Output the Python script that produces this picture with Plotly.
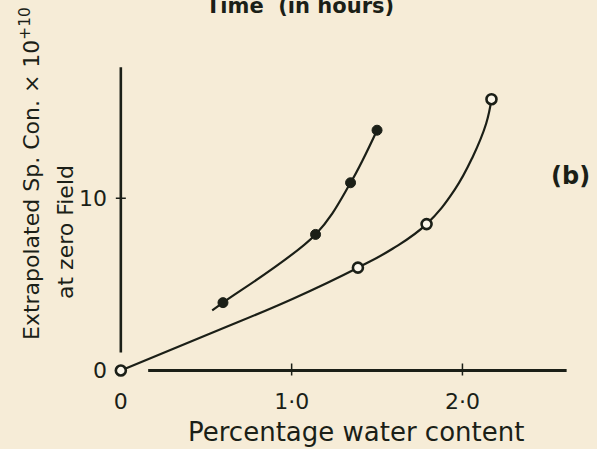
import plotly.graph_objects as go

# ---- data ----
filled_x = [0.598, 1.14, 1.345, 1.50]
filled_y = [3.94, 7.9, 10.9, 13.95]
filled_curve_x = [0.535, 0.598, 1.14, 1.345, 1.50]
filled_curve_y = [3.49, 3.94, 7.9, 10.9, 13.95]

open_x = [0.0, 1.388, 1.79, 2.17]
open_y = [0.0, 5.97, 8.5, 15.75]
open_curve_x = [0.0, 0.52, 1.008, 1.388, 1.593, 1.79, 1.953, 2.06, 2.139, 2.17]
open_curve_y = [0.0, 2.13, 4.17, 5.97, 7.08, 8.5, 10.47, 12.4, 14.34, 15.75]

x_tickvals = [0, 1, 2]
x_ticktext = ["0", "1·0", "2·0"]
y_tickvals = [0, 10]
y_ticktext = ["0", "10"]

INK = "#1b1f17"
BG = "#f6ecd7"
FONT = "DejaVu Sans"

fig = go.Figure()
fig.add_trace(go.Scatter(x=filled_curve_x, y=filled_curve_y, mode="lines",
                         line=dict(color=INK, width=2.2, shape="spline", smoothing=1.0),
                         hoverinfo="skip", cliponaxis=False))
fig.add_trace(go.Scatter(x=open_curve_x, y=open_curve_y, mode="lines",
                         line=dict(color=INK, width=2.2, shape="spline", smoothing=1.2),
                         hoverinfo="skip", cliponaxis=False))
fig.add_trace(go.Scatter(x=filled_x, y=filled_y, mode="markers",
                         marker=dict(symbol="circle", size=10, color=INK,
                                     line=dict(color=INK, width=1)), cliponaxis=False))
fig.add_trace(go.Scatter(x=open_x, y=open_y, mode="markers",
                         marker=dict(symbol="circle", size=10, color="#fbf6ea",
                                     line=dict(color=INK, width=2.6)), cliponaxis=False))

# axis lines and crossing tick marks (drawn like the hand-drawn original)
shapes = [
    dict(type="line", xref="x", yref="y", x0=0.16, x1=2.61, y0=0, y1=0,
         line=dict(color=INK, width=3.2), layer="below"),
    dict(type="line", xref="x", yref="y", x0=0.0, x1=0.0, y0=1.05, y1=17.6,
         line=dict(color=INK, width=2.6), layer="below"),
]
for xv in [1, 2]:
    shapes.append(dict(type="line", xref="x", yref="y", ysizemode="pixel", yanchor=0,
                       x0=xv, x1=xv, y0=-5, y1=7, line=dict(color=INK, width=1.5)))
shapes.append(dict(type="line", xref="x", yref="y", xsizemode="pixel", xanchor=0,
                   x0=-5, x1=5, y0=10, y1=10, line=dict(color=INK, width=1.5)))
fig.update_layout(shapes=shapes)

fig.update_xaxes(range=[-0.04, 2.7], showline=False, showgrid=False, zeroline=False,
                 tickvals=x_tickvals, ticktext=x_ticktext, ticks="",
                 tickfont=dict(family=FONT, size=22, color=INK))
fig.update_yaxes(range=[-0.9, 20], showline=False, showgrid=False, zeroline=False,
                 tickvals=y_tickvals, ticktext=y_ticktext, ticks="", ticklabelstandoff=6,
                 tickfont=dict(family=FONT, size=22, color=INK))


def px(xp):
    return (xp - 114) / 468


def py(yp):
    return (386 - yp) / 360


annotations = [
    dict(text="Percentage water content", xref="paper", yref="paper",
         x=px(356), y=py(432), showarrow=False,
         xanchor="center", yanchor="middle", font=dict(family=FONT, size=26, color=INK)),
    dict(text="Extrapolated Sp. Con. × 10<sup>+10</sup>", xref="paper", yref="paper",
         x=px(30), y=py(174), showarrow=False, textangle=-90,
         xanchor="center", yanchor="middle", font=dict(family=FONT, size=22, color=INK)),
    dict(text="at zero Field", xref="paper", yref="paper",
         x=px(65), y=py(232), showarrow=False, textangle=-90,
         xanchor="center", yanchor="middle", font=dict(family=FONT, size=22, color=INK)),
    dict(text="<b>(b)</b>", xref="paper", yref="paper",
         x=px(570), y=py(176), showarrow=False,
         xanchor="center", yanchor="middle", font=dict(family=FONT, size=24, color=INK)),
    dict(text="<b>Time  (in hours)</b>", xref="paper", yref="paper",
         x=px(300), y=py(6), showarrow=False,
         xanchor="center", yanchor="middle", font=dict(family=FONT, size=21, color=INK)),
]

fig.update_layout(
    width=597, height=449,
    margin=dict(l=114, r=15, t=26, b=63),
    paper_bgcolor=BG, plot_bgcolor=BG,
    showlegend=False,
    annotations=annotations,
)

fig.write_html("out.html", config={"displayModeBar": False},
               post_script="document.body.style.margin='0';document.body.style.overflow='hidden';")
